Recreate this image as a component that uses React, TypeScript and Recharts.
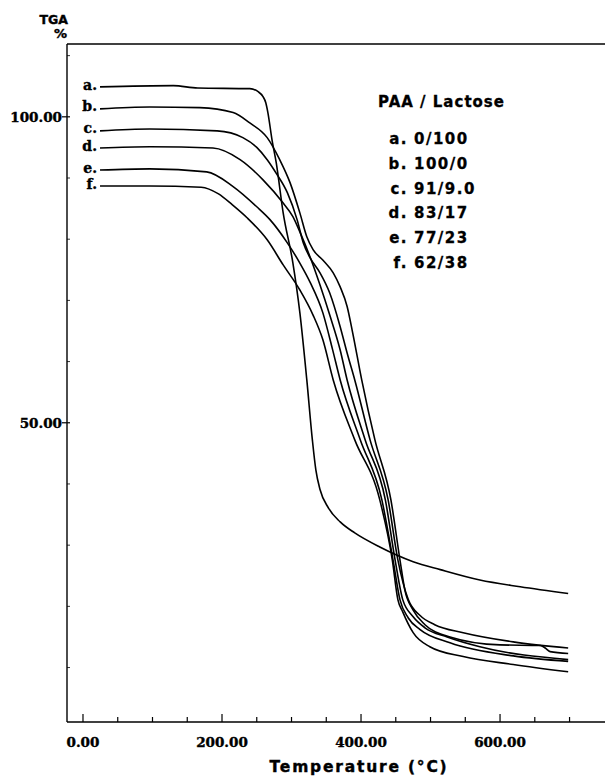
import React from 'react';
import { LineChart, Line, XAxis, YAxis, ReferenceLine, Legend } from 'recharts';

// weight loss curves, [temperature °C, weight %]
const curveA = [
  [24.5, 104.9], [130, 105.1], [165, 104.7], [240, 104.6], [252, 104.1], [259, 103.3],
  [263, 102.3], [266, 100.7], [272, 96.2], [278, 92.5], [288, 84.3], [302, 76.1],
  [312, 68.0], [322, 57.0], [330, 47.2], [335, 42.3], [341, 39.1], [353, 36.1],
  [370, 33.8], [391, 32.0], [427, 29.7], [475, 27.3], [514, 26.0], [571, 24.3],
  [629, 23.2], [698, 22.1],
];
const curveB = [
  [24.5, 101.3], [96, 101.6], [168, 101.5], [216, 100.7], [240, 99.0], [265, 96.6],
  [283, 93.0], [298, 89.2], [312, 84.3], [322, 80.4], [331, 78.3], [345, 76.6],
  [360, 74.5], [370, 72.2], [380, 69.0], [388, 64.7], [401, 57.0], [420, 47.2],
  [443, 37.4], [456, 27.6], [463, 22.7], [475, 19.4], [492, 17.0], [528, 15.0],
  [600, 13.7], [658, 13.6], [665, 13.2], [672, 12.6], [698, 12.3],
];
const curveC = [
  [24.5, 97.7], [96, 98.0], [193, 97.7], [230, 96.6], [250, 95.0], [265, 93.0],
  [279, 90.6], [294, 87.6], [308, 83.2], [317, 79.4], [327, 76.9], [341, 74.5],
  [355, 71.2], [370, 65.7], [380, 61.4], [391, 57.0], [413, 47.2], [439, 37.4],
  [453, 27.6], [468, 21.1], [485, 18.5], [506, 17.0], [547, 15.7], [619, 14.2],
  [698, 13.2],
];
const curveD = [
  [24.5, 94.9], [96, 95.1], [187, 94.9], [226, 93.0], [259, 89.7], [288, 85.9],
  [302, 83.7], [312, 81.2], [327, 77.0], [341, 72.5], [355, 67.6], [370, 61.9],
  [380, 57.0], [406, 47.2], [435, 37.4], [449, 27.6], [460, 21.1], [475, 18.3],
  [492, 16.5], [524, 15.0], [571, 13.4], [698, 11.3],
];
const curveE = [
  [24.5, 91.3], [96, 91.5], [178, 91.0], [216, 88.6], [250, 85.3], [269, 83.2],
  [294, 79.4], [312, 76.1], [327, 72.9], [345, 68.0], [359, 62.0], [370, 57.0],
  [399, 47.2], [430, 37.4], [446, 27.6], [456, 21.1], [468, 18.1], [485, 16.2],
  [528, 14.05], [619, 11.9], [698, 11.0],
];
const curveF = [
  [24.5, 88.7], [96, 88.7], [170, 88.5], [195, 87.4], [215, 85.6], [236, 83.5],
  [265, 79.9], [288, 75.8], [312, 71.7], [331, 67.6], [345, 63.6], [360, 57.0],
  [391, 47.2], [427, 37.4], [445, 27.6], [453, 21.1], [460, 19.1], [475, 15.7],
  [499, 13.4], [547, 11.8], [619, 10.5], [698, 9.3],
];

const letters = ['a', 'b', 'c', 'd', 'e', 'f'];
const ratios = ['0/100', '100/0', '91/9.0', '83/17', '77/23', '62/38'];
const curves = [curveA, curveB, curveC, curveD, curveE, curveF];
const letterOffsets = [-2, -3, -3, -2, -2, -2];

const xTicks = [0, 50, 100, 150, 200, 250, 300, 350, 400, 450, 500, 550, 600, 650, 700];
const xLabelled = [0, 200, 400, 600];
const yTicks = [10, 20, 30, 40, 50, 60, 70, 80, 90, 100, 110];
const yLabelled = [50, 100];

const serif = 'DejaVu Serif';
const heavy = 'DejaVu Sans';

const XTick = (props: any) => {
  const { x, y, payload } = props;
  const major = xLabelled.includes(payload.value);
  return (
    <g>
      <line x1={x} x2={x} y1={y} y2={y - (major ? 8 : 5)} stroke="#000" strokeWidth={1.2} />
      {major && (
        <text x={x} y={y + 25} textAnchor="middle" fontFamily={serif} fontWeight="bold" fontSize={13.5}
          fill="#000" stroke="#000" strokeWidth={0.4}>
          {payload.value.toFixed(2)}
        </text>
      )}
    </g>
  );
};

const YTick = (props: any) => {
  const { x, y, payload } = props;
  const major = yLabelled.includes(payload.value);
  return (
    <g>
      {major ? (
        <line x1={x - 5} x2={x + 3} y1={y} y2={y} stroke="#000" strokeWidth={1.2} />
      ) : (
        <line x1={x} x2={x + 3} y1={y} y2={y} stroke="#000" strokeWidth={0.8} />
      )}
      {major && (
        <text x={x - 5} y={y + 5} textAnchor="end" fontFamily={serif} fontWeight="bold" fontSize={13.5}
          fill="#000" stroke="#000" strokeWidth={0.4}>
          {payload.value.toFixed(2)}
        </text>
      )}
    </g>
  );
};

const startLabel = (i: number) => (props: any) => {
  if (props.index !== 0) return null;
  return (
    <text x={props.x - 3} y={props.y + 5 + letterOffsets[i]} textAnchor="end" fontFamily={serif} fontWeight="bold"
      fontSize={14} fill="#000" stroke="#000" strokeWidth={0.4}>
      {letters[i]}.
    </text>
  );
};

const LegendBox = ({ payload }: any) => (
  <div style={{ fontFamily: heavy, fontWeight: 'bold', fontSize: 15, color: '#000', WebkitTextStroke: '0.3px #000' }}>
    <div style={{ textAlign: 'center', lineHeight: '25px', letterSpacing: 1, marginBottom: 12 }}>PAA / Lactose</div>
    {(payload || []).map((p: any, i: number) => {
      const [tag, ratio] = String(p.value).split(' ');
      return (
        <div key={i} style={{ display: 'flex', lineHeight: '24.8px', letterSpacing: 1.5 }}>
          <span style={{ width: 54, textAlign: 'right' }}>{tag}</span>
          <span style={{ marginLeft: 6 }}>{ratio}</span>
        </div>
      );
    })}
  </div>
);

export default function App() {
  return (
    <div style={{ position: 'absolute', left: 0, top: 0 }}>
      <LineChart width={605} height={776} margin={{ top: 44, right: 0, bottom: 24, left: 7 }}>
        <XAxis
          type="number"
          dataKey="t"
          domain={[-23, 751]}
          ticks={xTicks}
          interval={0}
          tickSize={0}
          tickMargin={0}
          tickLine={false}
          tick={<XTick />}
          height={30}
          axisLine={{ stroke: '#000', strokeWidth: 1.4 }}
          label={{
            content: ({ viewBox }: any) => (
              <text x={viewBox.x + 292} y={viewBox.y + 50} textAnchor="middle" fontFamily={heavy} fontWeight="bold"
                fontSize={15.5} letterSpacing={1.8} fill="#000" stroke="#000" strokeWidth={0.4}>
                Temperature (°C)
              </text>
            ),
          }}
        />
        <YAxis
          type="number"
          dataKey="w"
          domain={[1.1, 111.9]}
          ticks={yTicks}
          interval={0}
          tickSize={0}
          tickMargin={0}
          tickLine={false}
          tick={<YTick />}
          width={60}
          axisLine={{ stroke: '#000', strokeWidth: 1.4 }}
          label={{
            content: ({ viewBox }: any) => (
              <g fontFamily={heavy} fontWeight="bold" fill="#000" stroke="#000" strokeWidth={0.4}>
                <text x={viewBox.x + viewBox.width + 1} y={viewBox.y - 20} textAnchor="end" fontSize={12.5}>TGA</text>
                <text x={viewBox.x + viewBox.width} y={viewBox.y - 6} textAnchor="end" fontSize={13}>%</text>
              </g>
            ),
          }}
        />
        <ReferenceLine y={111.9} stroke="#000" strokeWidth={1.4} />
        <Legend
          layout="vertical"
          align="center"
          verticalAlign="middle"
          wrapperStyle={{ left: 354, top: 90, width: 175 }}
          content={<LegendBox />}
        />
        {curves.map((c, i) => (
          <Line
            key={letters[i]}
            name={`${letters[i]}. ${ratios[i]}`}
            data={c.map(([t, w]) => ({ t, w }))}
            dataKey="w"
            type="monotone"
            stroke="#000"
            strokeWidth={1.6}
            dot={false}
            label={startLabel(i)}
            isAnimationActive={false}
          />
        ))}
      </LineChart>
    </div>
  );
}
